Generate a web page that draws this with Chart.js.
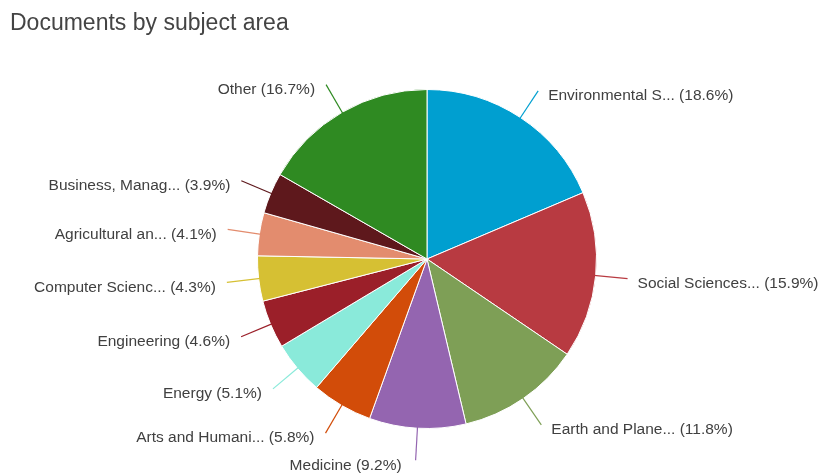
<!DOCTYPE html>
<html lang="en">
<head>
    <meta charset="UTF-8">
    <title>Documents by subject area</title>
    <script src="https://cdn.jsdelivr.net/npm/chart.js"></script>
    <style>
        body {
            margin: 0;
            background-color: #fff;
            font-family: "Liberation Sans", Arial, sans-serif;
        }
        .wrap {
            position: relative;
            width: 821px;
            height: 473px;
        }
        .title {
            position: absolute;
            left: 10px;
            top: 9px;
            font-size: 23px;
            color: #444;
        }
        canvas {
            position: absolute;
            left: 0;
            top: 0;
        }
    </style>
</head>
<body>
    <div class="wrap">
        <canvas id="subjectChart" width="821" height="473"></canvas>
        <div class="title">Documents by subject area</div>
    </div>

    <script>
        // subject areas, in drawing order (clockwise from 12 o'clock)
        const subjects = [
            'Environmental S...',
            'Social Sciences...',
            'Earth and Plane...',
            'Medicine',
            'Arts and Humani...',
            'Energy',
            'Engineering',
            'Computer Scienc...',
            'Agricultural an...',
            'Business, Manag...',
            'Other'
        ];
        // share of documents, percent
        const shares = [18.6, 15.9, 11.8, 9.2, 5.8, 5.1, 4.6, 4.3, 4.1, 3.9, 16.7];
        const colors = [
            '#009fd0', '#b83a41', '#7e9f56', '#9465b0', '#d24c09', '#8aeada',
            '#9b1f29', '#d6c033', '#e38c6e', '#5e181c', '#2f8a22'
        ];

        // labels outside the pie with a short leader line
        const outsideLabels = {
            id: 'outsideLabels',
            afterDatasetsDraw(chart) {
                const ctx = chart.ctx;
                const arcs = chart.getDatasetMeta(0).data;
                ctx.save();
                ctx.font = '15.5px "Liberation Sans", Arial, sans-serif';
                ctx.textBaseline = 'middle';
                arcs.forEach((arc, i) => {
                    const p = arc.getProps(['x', 'y', 'startAngle', 'endAngle', 'outerRadius'], true);
                    const mid = (p.startAngle + p.endAngle) / 2;
                    const cos = Math.cos(mid), sin = Math.sin(mid);
                    const x0 = p.x + cos * (p.outerRadius - 2);
                    const y0 = p.y + sin * (p.outerRadius - 2);
                    const x1 = p.x + cos * (p.outerRadius + 32);
                    const y1 = p.y + sin * (p.outerRadius + 32);
                    ctx.strokeStyle = colors[i];
                    ctx.lineWidth = 1.2;
                    ctx.beginPath();
                    ctx.moveTo(x0, y0);
                    ctx.lineTo(x1, y1);
                    ctx.stroke();

                    const right = cos > 0;
                    const nearBottom = sin > 0.95;
                    ctx.fillStyle = '#404040';
                    ctx.textAlign = right ? 'left' : 'right';
                    const tx = x1 + (right ? 10 : (nearBottom ? -14 : -11));
                    const ty = y1 + (nearBottom ? 6 : 5);
                    ctx.fillText(subjects[i] + ' (' + shares[i].toFixed(1) + '%)', tx, ty);
                });
                ctx.restore();
            }
        };

        const ctx = document.getElementById('subjectChart').getContext('2d');
        new Chart(ctx, {
            type: 'pie',
            data: {
                labels: subjects,
                datasets: [{
                    data: shares,
                    backgroundColor: colors,
                    borderColor: '#fff',
                    borderWidth: 1
                }]
            },
            options: {
                responsive: false,
                animation: false,
                layout: {
                    padding: { left: 257, right: 224, top: 89, bottom: 44 }
                },
                plugins: {
                    legend: { display: false },
                    tooltip: { enabled: false },
                    title: { display: false }
                }
            },
            plugins: [outsideLabels]
        });
    </script>
</body>
</html>
